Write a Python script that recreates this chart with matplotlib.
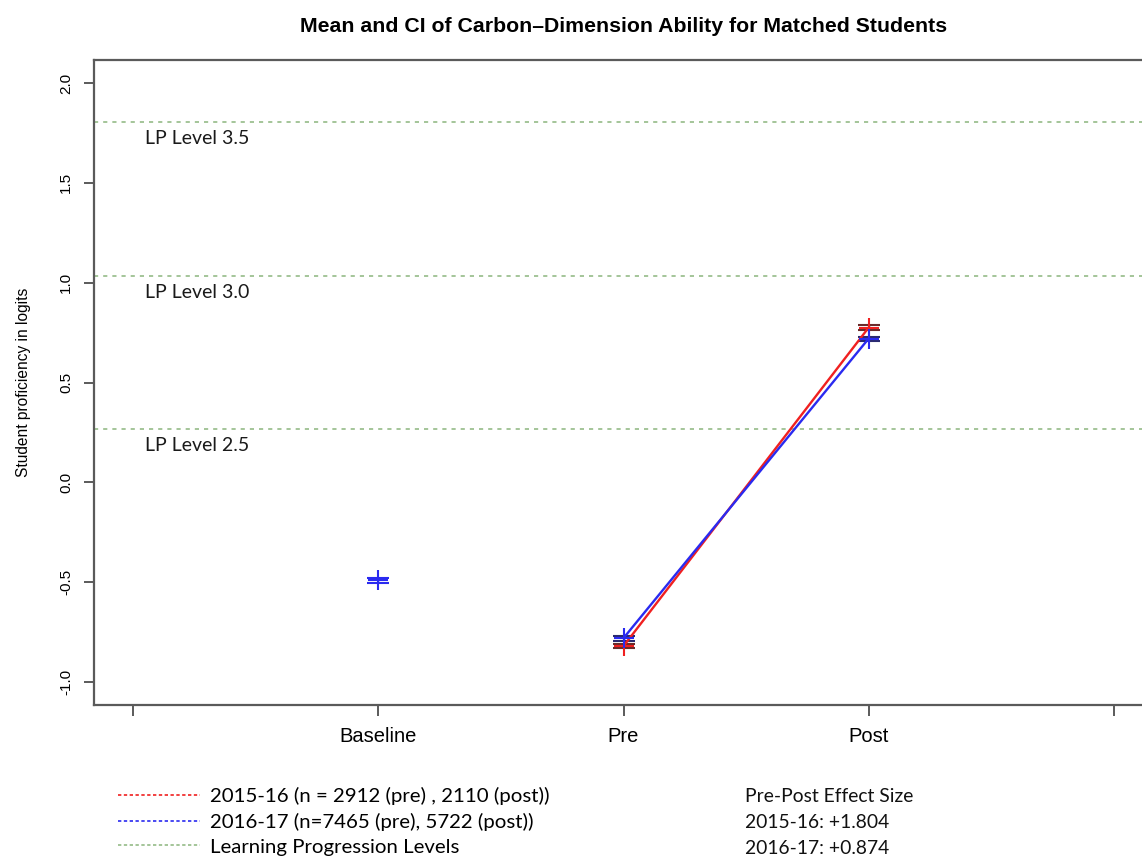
import matplotlib.pyplot as plt
from matplotlib.lines import Line2D

# data
groups = ['Baseline', 'Pre', 'Post']
group_x = [1, 2, 3]

base_mean = [-0.49]
base_ci = [0.012]

red_mean = [-0.82, 0.775]   # 2015-16, pre / post
red_ci = [0.012, 0.012]
blue_mean = [-0.78, 0.72]   # 2016-17, pre / post
blue_ci = [0.012, 0.010]

lp_levels = [0.265, 1.035, 1.805]
lp_labels = ['LP Level 2.5', 'LP Level 3.0', 'LP Level 3.5']

legend_labels = ['2015-16 (n = 2912 (pre) , 2110 (post))',
                 '2016-17 (n=7465 (pre), 5722 (post))',
                 'Learning Progression Levels']
effect_lines = ['Pre-Post Effect Size', '2015-16: +1.804', '2016-17: +0.874']

red = '#f02020'
blue = '#2a2af0'
green = '#95bb88'
axcol = '#5a5a5a'
note_font = 'Lato'

fig = plt.figure(figsize=(11.42, 8.58), dpi=100)
# the plot box runs off the right edge of the picture, as in the reference
ax = fig.add_axes([94 / 1142, 153 / 858, 1048 / 1142, 645 / 858])

# learning progression levels
for lvl, lab in zip(lp_levels, lp_labels):
    ax.axhline(lvl, color=green, lw=1.2, ls=(0, (2.5, 3)))
    ax.text(0.05, lvl - 0.04, lab, family=note_font, fontsize=14,
            va='top', ha='left', color='#1a1a1a')

# series
ax.errorbar(group_x[1:], red_mean, yerr=red_ci, fmt='+-', color=red,
            ecolor='#6a2a2a', ms=14, mew=1.5, lw=1.7, capsize=8,
            capthick=1.3, elinewidth=1)
ax.errorbar(group_x[1:], blue_mean, yerr=blue_ci, fmt='+-', color=blue,
            ecolor='#2a2a70', ms=14, mew=1.5, lw=1.7, capsize=8,
            capthick=1.3, elinewidth=1)
ax.errorbar(group_x[:1], base_mean, yerr=base_ci, fmt='+', color=blue,
            ecolor=blue, ms=14, mew=1.5, capsize=8, capthick=1.3,
            elinewidth=1)

ax.set_xlim(-0.16, 4.115)
ax.set_ylim(-1.115, 2.115)
ax.set_xticks([0] + group_x + [4])
ax.set_xticklabels([''] + groups + [''], family='Liberation Sans', fontsize=14.5)
ax.set_yticks([-1.0, -0.5, 0.0, 0.5, 1.0, 1.5, 2.0])
ax.set_yticklabels(['-1.0', '-0.5', '0.0', '0.5', '1.0', '1.5', '2.0'],
                   family='Liberation Sans', fontsize=11, rotation=90, va='center')
ax.tick_params(axis='y', length=7, width=1.4, color=axcol, pad=8)
ax.tick_params(axis='x', length=8, width=1.4, color=axcol, pad=8)
for side in ['left', 'bottom', 'top']:
    ax.spines[side].set_color(axcol)
    ax.spines[side].set_linewidth(1.6)
ax.spines['right'].set_visible(False)

ax.set_ylabel('Student proficiency in logits', family='Liberation Sans',
              fontsize=11.2, labelpad=20)
ax.set_title('Mean and CI of Carbon\u2013Dimension Ability for Matched Students',
             family='Liberation Sans', fontweight='bold', fontsize=15.3, pad=20,
             x=(623.5 - 94) / 1048)

# legend below the plot
handles = [Line2D([], [], color=c, lw=1.2, ls=(0, (2, 1.5))) for c in [red, blue, green]]
fig.legend(handles, legend_labels, loc='upper left',
           bbox_to_anchor=(118 / 1142, 1 - 787 / 858), frameon=False,
           prop={'family': note_font, 'size': 14.7}, handlelength=4.0,
           handletextpad=0.5, labelspacing=0.37, borderpad=0, borderaxespad=0)

for i, line in enumerate(effect_lines):
    fig.text(745 / 1142, 1 - (797 + i * 25.5) / 858, line, family=note_font,
             fontsize=13.9, va='center', ha='left', color='#111111')

fig.savefig('out.png', dpi=100)
